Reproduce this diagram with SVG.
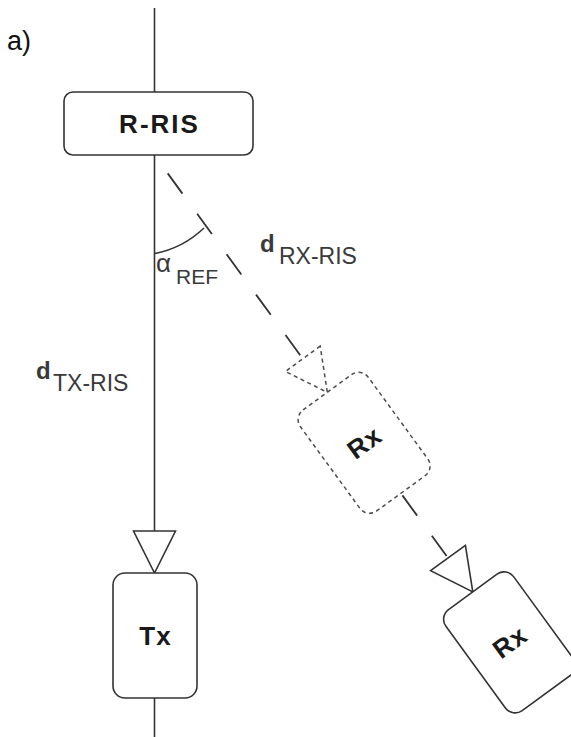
<svg xmlns="http://www.w3.org/2000/svg" width="571" height="737" viewBox="0 0 571 737">
  <style>
    .box { fill: #ffffff; stroke: #333333; stroke-width: 1.6; }
    .ghost { fill: #ffffff; stroke: #4d4d4d; stroke-width: 1.5; stroke-dasharray: 4 3.5; }
    .wire { fill: none; stroke: #333333; stroke-width: 1.6; }
    .dash { fill: none; stroke: #333333; stroke-width: 1.8; stroke-dasharray: 25 25; }
    .head { fill: #ffffff; stroke: #333333; stroke-width: 1.6; stroke-linejoin: miter; }
    .head-ghost { fill: #ffffff; stroke: #4d4d4d; stroke-width: 1.5; stroke-dasharray: 4 3.5; }
    .lbl { font-family: "Liberation Sans", Arial, sans-serif; font-weight: bold; font-size: 26px; fill: #1a1a1a; text-anchor: middle; letter-spacing: 1px; }
    .dist { font-family: "Liberation Sans", Arial, sans-serif; fill: #3a3a3a; }
  </style>

  <!-- panel tag -->
  <text x="7" y="50" font-family="Liberation Sans, Arial, sans-serif" font-size="27" fill="#111111">a)</text>

  <!-- connectors -->
  <g id="connectors">
    <!-- vertical axis through R-RIS and Tx -->
    <line class="wire" x1="154.5" y1="8" x2="154.5" y2="92"/>
    <line class="wire" x1="154.5" y1="155" x2="154.5" y2="531"/>
    <polygon class="head" points="133.5,531 175.5,531 154.5,573"/>
    <line class="wire" x1="154.5" y1="698" x2="154.5" y2="737"/>

    <!-- reflected path R-RIS -> Rx (candidate) -> Rx -->
    <line class="dash" x1="167.7" y1="173.4" x2="302.8" y2="358.8"/>
    <polygon class="head-ghost" points="320.2,346.1 285.4,371.5 327.3,392.3"/>
    <line class="dash" x1="402.4" y1="495.4" x2="448.0" y2="558.0"/>
    <polygon class="head" points="465.4,545.3 430.6,570.7 472.8,591.9"/>

    <!-- reference angle arc -->
    <path class="wire" d="M155,253.5 Q183,248 204,228"/>
  </g>

  <g id="r-ris">
    <rect class="box" x="64" y="92" width="189" height="63" rx="9"/>
    <text class="lbl" x="159.5" y="133" style="letter-spacing:2px">R-RIS</text>
  </g>

  <g id="tx">
    <rect class="box" x="113" y="573" width="84" height="125" rx="12"/>
    <text class="lbl" x="155.5" y="645">Tx</text>
  </g>

  <g id="rx-candidate" transform="translate(364.1,442.8) rotate(-36.1)">
    <rect class="ghost" x="-42" y="-62.5" width="84" height="125" rx="12"/>
    <text class="lbl" x="0.5" y="9">Rx</text>
  </g>

  <g id="rx" transform="translate(509.6,642.4) rotate(-36.1)">
    <rect class="box" x="-42" y="-62.5" width="84" height="125" rx="12"/>
    <text class="lbl" x="0.5" y="9">Rx</text>
  </g>

  <!-- distance and angle labels -->
  <g id="label-d-rx-ris">
    <text class="dist" x="260" y="252" font-size="24" font-weight="bold">d</text>
    <text class="dist" x="279" y="264" font-size="23">RX-RIS</text>
  </g>

  <g id="label-d-tx-ris">
    <text class="dist" x="36" y="379" font-size="24" font-weight="bold">d</text>
    <text class="dist" x="53" y="391" font-size="23">TX-RIS</text>
  </g>

  <g id="label-alpha">
    <text class="dist" x="156" y="272" font-size="26">α</text>
    <text class="dist" x="176" y="284" font-size="21">REF</text>
  </g>
</svg>
